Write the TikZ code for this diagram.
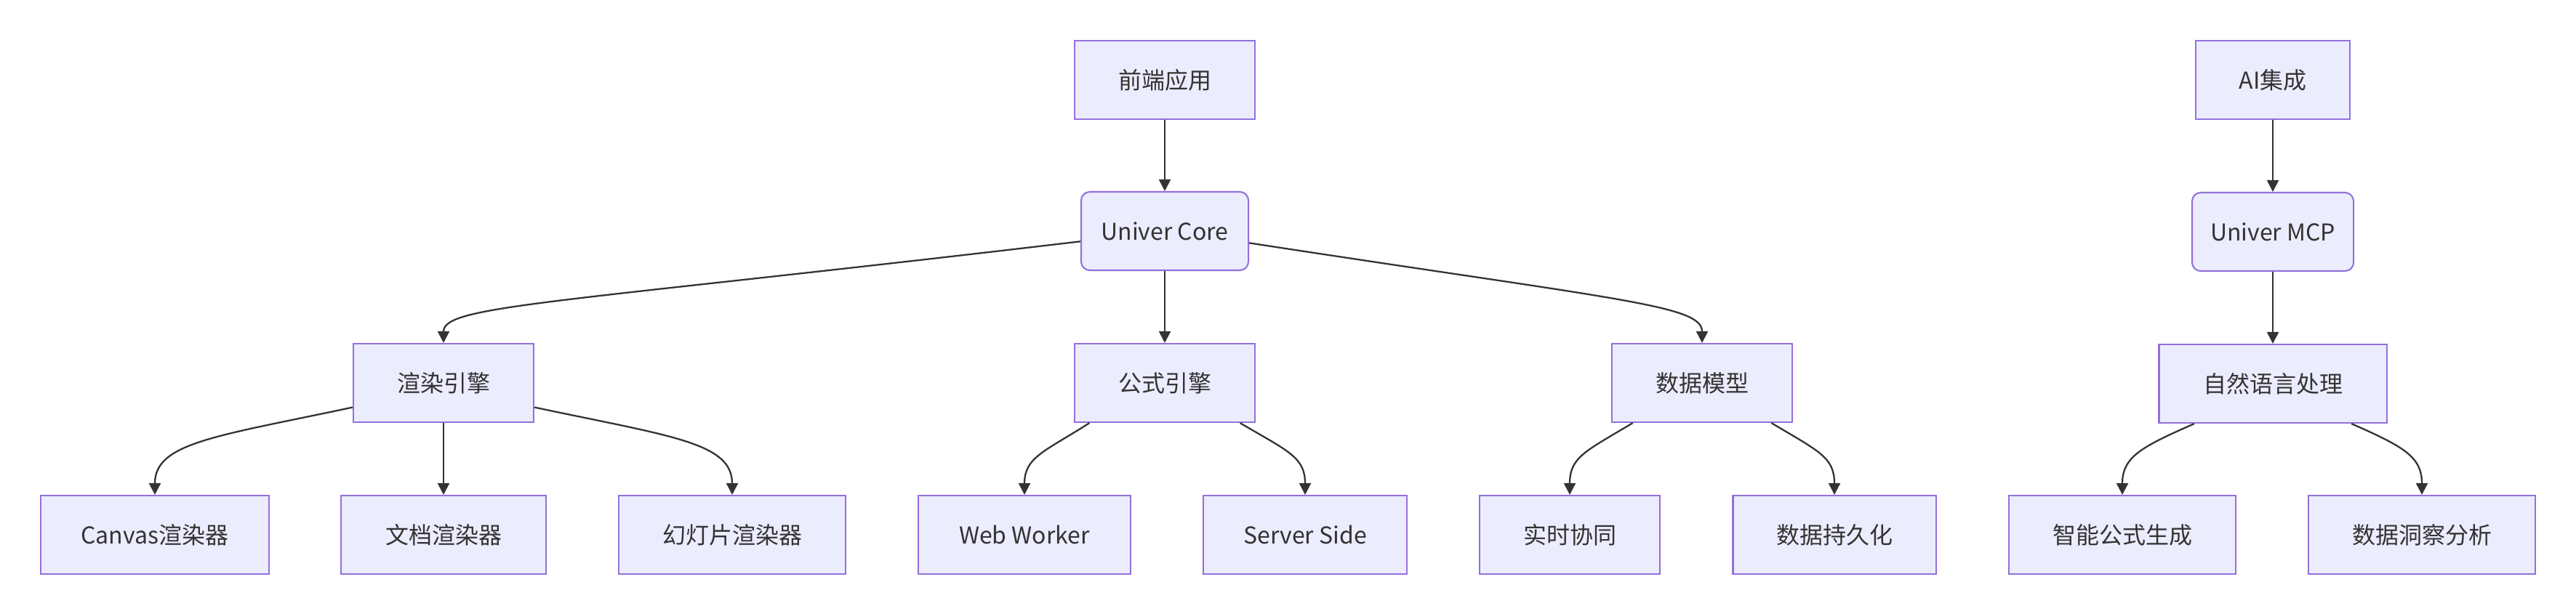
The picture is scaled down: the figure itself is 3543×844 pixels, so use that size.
\documentclass[tikz,border=0pt]{standalone}
\usepackage{fontspec}
\setmainfont{Noto Sans CJK SC}
\usetikzlibrary{arrows.meta}
\definecolor{nodefill}{HTML}{ECECFF}
\definecolor{nodeline}{HTML}{9370DB}
\definecolor{linkdark}{HTML}{333333}

\begin{document}
\begin{tikzpicture}[
    x=0.01cm, y=-0.01cm,
    box/.style={draw=nodeline, fill=nodefill, line width=0.6pt, inner sep=0pt,
        minimum height=1.08cm, minimum width=#1, text=linkdark,
        font=\fontsize{9.1}{11}\selectfont},
    box/.default=2.48cm,
    corebox/.style={box=#1, rounded corners=0.12cm},
    link/.style={draw=linkdark, line width=0.65pt},
    >={Triangle[length=0.16cm, width=0.16cm]}
]

\useasboundingbox (0,0) rectangle (3543,844);

% Top row
\node[box] (front) at (1602,110) {前端应用};
\node[box=2.12cm] (ai) at (3126,110) {AI集成};

% Cores
\node[corebox=2.30cm] (core) at (1602,318) {Univer Core};
\node[corebox=2.22cm] (mcp) at (3126,319) {Univer MCP};

% Engines
\node[box] (render) at (610,527) {渲染引擎};
\node[box] (formula) at (1602,527) {公式引擎};
\node[box] (model) at (2341,527) {数据模型};
\node[box=3.13cm] (nlp) at (3126,528) {自然语言处理};

% Leaves
\node[box=3.14cm] (canvas) at (213,736) {Canvas渲染器};
\node[box=2.81cm] (docr) at (610,736) {文档渲染器};
\node[box=3.12cm] (slide) at (1007,736) {幻灯片渲染器};
\node[box=2.92cm] (worker) at (1409,736) {Web Worker};
\node[box=2.80cm] (server) at (1795,736) {Server Side};
\node[box] (collab) at (2159,736) {实时协同};
\node[box=2.79cm] (persist) at (2523,736) {数据持久化};
\node[box=3.12cm] (genf) at (2919,736) {智能公式生成};
\node[box=3.12cm] (insight) at (3331,736) {数据洞察分析};

% Straight links
\foreach \a/\b in {front/core, core/formula, render/docr, ai/mcp, mcp/nlp}
    \draw[link, ->] (\a) -- (\b);

% Curved links
\draw[link, ->] (core.187) .. controls +(-727,86) and +(0,-52) .. (render.north);
\draw[link, ->] (core.352) .. controls +(513,79) and +(0,-52) .. (model.north);
\draw[link, ->] (render.195) .. controls +(-187,40) and +(0,-72) .. (canvas.north);
\draw[link, ->] (render.345) .. controls +(188,40) and +(0,-72) .. (slide.north);
\draw[link, ->] (formula.208) .. controls +(-61,39) and +(0,-52) .. (worker.north);
\draw[link, ->] (formula.332) .. controls +(66,39) and +(0,-52) .. (server.north);
\draw[link, ->] (model.210) .. controls +(-65,39) and +(0,-52) .. (collab.north);
\draw[link, ->] (model.330) .. controls +(65,39) and +(0,-52) .. (persist.north);
\draw[link, ->] (nlp.207) .. controls +(-73,32) and +(0,-52) .. (genf.north);
\draw[link, ->] (nlp.333) .. controls +(73,32) and +(0,-52) .. (insight.north);

\end{tikzpicture}
\end{document}
